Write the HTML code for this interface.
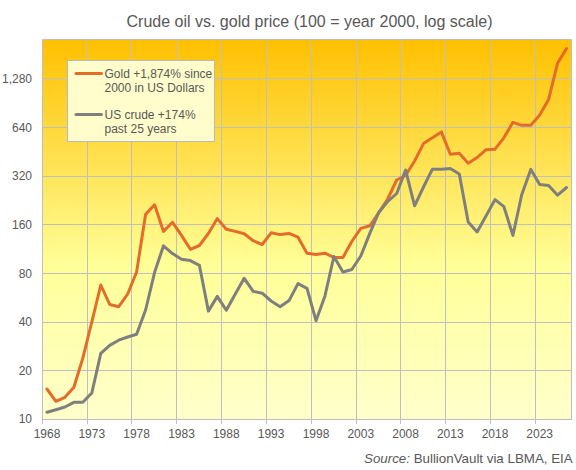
<!DOCTYPE html>
<html><head><meta charset="utf-8"><style>
html,body{margin:0;padding:0;background:#fff;}
svg{display:block;}
text{font-family:"Liberation Sans",sans-serif;fill:#585858;}
</style></head><body>
<svg width="576" height="470" viewBox="0 0 576 470">
<defs><linearGradient id="bg" x1="0" y1="0" x2="0" y2="1">
<stop offset="0" stop-color="#FFC000"/><stop offset="0.6" stop-color="#FFFF99"/><stop offset="1" stop-color="#FFFFCC"/></linearGradient></defs>
<rect x="0" y="0" width="576" height="470" fill="#fff"/>
<rect x="42.5" y="39.5" width="529" height="380" fill="url(#bg)" stroke="#BFBFBF" stroke-width="1"/>
<g stroke="#BFBFBF" stroke-width="1"><line x1="42" y1="78.5" x2="571" y2="78.5"/><line x1="42" y1="127.5" x2="571" y2="127.5"/><line x1="42" y1="176.5" x2="571" y2="176.5"/><line x1="42" y1="224.5" x2="571" y2="224.5"/><line x1="42" y1="273.5" x2="571" y2="273.5"/><line x1="42" y1="322.5" x2="571" y2="322.5"/><line x1="42" y1="370.5" x2="571" y2="370.5"/><line x1="87.5" y1="39" x2="87.5" y2="419"/><line x1="131.5" y1="39" x2="131.5" y2="419"/><line x1="176.5" y1="39" x2="176.5" y2="419"/><line x1="221.5" y1="39" x2="221.5" y2="419"/><line x1="266.5" y1="39" x2="266.5" y2="419"/><line x1="311.5" y1="39" x2="311.5" y2="419"/><line x1="356.5" y1="39" x2="356.5" y2="419"/><line x1="400.5" y1="39" x2="400.5" y2="419"/><line x1="445.5" y1="39" x2="445.5" y2="419"/><line x1="490.5" y1="39" x2="490.5" y2="419"/><line x1="535.5" y1="39" x2="535.5" y2="419"/><line x1="42.5" y1="419" x2="42.5" y2="424"/><line x1="87.5" y1="419" x2="87.5" y2="424"/><line x1="131.5" y1="419" x2="131.5" y2="424"/><line x1="176.5" y1="419" x2="176.5" y2="424"/><line x1="221.5" y1="419" x2="221.5" y2="424"/><line x1="266.5" y1="419" x2="266.5" y2="424"/><line x1="311.5" y1="419" x2="311.5" y2="424"/><line x1="356.5" y1="419" x2="356.5" y2="424"/><line x1="400.5" y1="419" x2="400.5" y2="424"/><line x1="445.5" y1="419" x2="445.5" y2="424"/><line x1="490.5" y1="419" x2="490.5" y2="424"/><line x1="535.5" y1="419" x2="535.5" y2="424"/></g>
<polyline fill="none" stroke="#E46C2A" stroke-width="3" stroke-linejoin="round" stroke-linecap="round" points="47.0,389.0 55.9,401.3 64.9,397.3 73.9,387.3 82.8,358.2 91.8,322.0 100.8,285.0 109.7,304.5 118.7,306.7 127.7,294.0 136.6,272.0 145.6,214.4 154.6,204.8 163.5,231.4 172.5,222.3 181.5,235.4 190.4,249.3 199.4,245.5 208.4,233.4 217.3,218.6 226.3,229.3 235.3,231.4 244.2,233.7 253.2,240.7 262.2,244.5 271.1,232.8 280.1,234.6 289.1,233.4 298.0,237.2 307.0,253.2 316.0,254.5 324.9,253.2 333.9,257.5 342.9,257.6 351.8,241.5 360.8,228.4 369.8,225.8 378.7,212.8 387.7,199.0 396.7,180.0 405.6,175.5 414.6,161.0 423.5,143.6 432.4,137.8 441.4,131.9 450.3,154.2 459.3,153.2 468.2,163.2 477.1,157.6 486.1,149.7 495.0,149.2 503.9,137.8 512.9,122.3 521.8,125.3 530.8,125.3 539.7,115.0 548.6,99.5 557.6,63.1 566.5,48.6"/>
<polyline fill="none" stroke="#7F7F7F" stroke-width="3" stroke-linejoin="round" stroke-linecap="round" points="47.0,412.3 55.9,409.7 64.9,407.0 73.9,402.3 82.8,402.3 91.8,393.0 100.8,353.3 109.7,345.4 118.7,340.2 127.7,337.0 136.6,334.3 145.6,310.0 154.6,272.3 163.5,245.8 172.5,253.6 181.5,259.2 190.4,260.6 199.4,265.3 208.4,311.1 217.3,296.4 226.3,310.3 235.3,294.0 244.2,278.3 253.2,291.4 262.2,293.2 271.1,301.0 280.1,306.8 289.1,300.5 298.0,283.6 307.0,288.4 316.0,320.7 324.9,296.2 333.9,256.5 342.9,272.0 351.8,269.5 360.8,256.0 369.8,233.4 378.7,212.5 387.7,201.5 396.7,193.5 405.6,170.0 414.6,205.8 423.5,187.0 432.4,169.2 441.4,169.2 450.3,168.4 459.3,174.1 468.2,222.0 477.1,231.9 486.1,215.8 495.0,199.6 503.9,206.6 512.9,235.4 521.8,194.5 530.8,169.4 539.7,184.5 548.6,185.5 557.6,195.2 566.5,187.5"/>
<rect x="67.5" y="60.5" width="147" height="81" fill="#FFFDCC" stroke="#B9B9C0" stroke-width="1"/>
<line x1="76" y1="73.5" x2="101.5" y2="73.5" stroke="#E46C2A" stroke-width="3" stroke-linecap="round"/>
<line x1="76" y1="114.5" x2="101.5" y2="114.5" stroke="#7F7F7F" stroke-width="3" stroke-linecap="round"/>
<g font-size="12">
<text x="104.5" y="78">Gold +1,874% since</text>
<text x="104.5" y="91.5">2000 in US Dollars</text>
<text x="104.5" y="119">US crude +174%</text>
<text x="104.5" y="132.5">past 25 years</text>
<text x="32" y="83" text-anchor="end">1,280</text><text x="32" y="132" text-anchor="end">640</text><text x="32" y="180" text-anchor="end">320</text><text x="32" y="229" text-anchor="end">160</text><text x="32" y="278" text-anchor="end">80</text><text x="32" y="326" text-anchor="end">40</text><text x="32" y="375" text-anchor="end">20</text><text x="32" y="423" text-anchor="end">10</text><text x="47.0" y="438" text-anchor="middle">1968</text><text x="91.8" y="438" text-anchor="middle">1973</text><text x="136.6" y="438" text-anchor="middle">1978</text><text x="181.5" y="438" text-anchor="middle">1983</text><text x="226.3" y="438" text-anchor="middle">1988</text><text x="271.1" y="438" text-anchor="middle">1993</text><text x="316.0" y="438" text-anchor="middle">1998</text><text x="360.8" y="438" text-anchor="middle">2003</text><text x="405.6" y="438" text-anchor="middle">2008</text><text x="450.3" y="438" text-anchor="middle">2013</text><text x="495.0" y="438" text-anchor="middle">2018</text><text x="539.7" y="438" text-anchor="middle">2023</text>
</g>
<text x="126.5" y="27" font-size="16" fill="#595959">Crude oil vs. gold price (100 = year 2000, log scale)</text>
<text x="364" y="463" font-size="13.33"><tspan font-style="italic">Source:</tspan> BullionVault via LBMA, EIA</text>
</svg>
</body></html>
